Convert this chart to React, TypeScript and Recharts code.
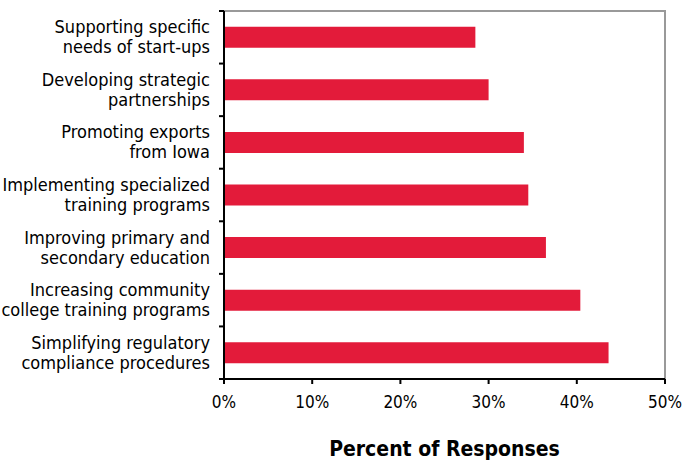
import { Bar, BarChart, ReferenceArea, XAxis, YAxis } from "recharts";

const categories = [
  "Supporting specific|needs of start-ups",
  "Developing strategic|partnerships",
  "Promoting exports|from Iowa",
  "Implementing specialized|training programs",
  "Improving primary and|secondary education",
  "Increasing community|college training programs",
  "Simplifying regulatory|compliance procedures",
];
const percents = [28.5, 30.0, 34.0, 34.5, 36.5, 40.4, 43.6];
const xTicks = [0, 10, 20, 30, 40, 50];

const data = categories.map((c, i) => ({ name: c, value: percents[i] }));

const FONT = "'Liberation Sans Narrow', 'DejaVu Sans Condensed', sans-serif";
const W = 683;
const H = 462;
const TOP = 11;
const PLOT_H = 368;
const BAND = PLOT_H / categories.length;

function CategoryTick(props: any) {
  const { x, y, payload, index } = props;
  const [l1, l2] = String(payload.value).split("|");
  const axisX = x + 8;
  return (
    <g>
      <line x1={axisX - 5} x2={axisX} y1={y - BAND / 2} y2={y - BAND / 2} stroke="#000" strokeWidth={2} />
      {index === categories.length - 1 && (
        <line x1={axisX - 5} x2={axisX} y1={y + BAND / 2} y2={y + BAND / 2} stroke="#000" strokeWidth={2} />
      )}
      <text x={axisX - 14} y={y - 4} textAnchor="end" fontSize={18} fontFamily={FONT} fill="#000">
        {l1}
      </text>
      <text x={axisX - 14} y={y + 16} textAnchor="end" fontSize={18} fontFamily={FONT} fill="#000">
        {l2}
      </text>
    </g>
  );
}

export default function App() {
  return (
    <div style={{ position: "absolute", left: 0, top: 0, width: W, height: H, background: "#fff" }}>
      <BarChart
        width={W}
        height={H}
        data={data}
        layout="vertical"
        barCategoryGap="30%"
        margin={{ top: TOP, right: 18, bottom: 0, left: 0 }}
      >
        <ReferenceArea x1={0} x2={50} fill="none" stroke="#999" strokeWidth={2} ifOverflow="visible" />
        <XAxis
          type="number"
          domain={[0, 50]}
          ticks={xTicks}
          tickFormatter={(v) => `${v}%`}
          height={H - TOP - PLOT_H}
          axisLine={{ stroke: "#000", strokeWidth: 2 }}
          tickLine={{ stroke: "#000", strokeWidth: 2 }}
          tickSize={5}
          tick={{ fontSize: 17, fontFamily: FONT, fill: "#000", dy: 10 }}
          label={{
            value: "Percent of Responses",
            position: "insideBottom",
            offset: 6,
            style: { fontSize: 21, fontWeight: "bold", fontFamily: FONT, fill: "#000" },
          }}
        />
        <YAxis
          type="category"
          dataKey="name"
          width={224}
          axisLine={{ stroke: "#000", strokeWidth: 2 }}
          tickLine={false}
          tick={<CategoryTick />}
          interval={0}
        />
        <Bar dataKey="value" fill="#E31B3A" isAnimationActive={false} />
      </BarChart>
    </div>
  );
}
